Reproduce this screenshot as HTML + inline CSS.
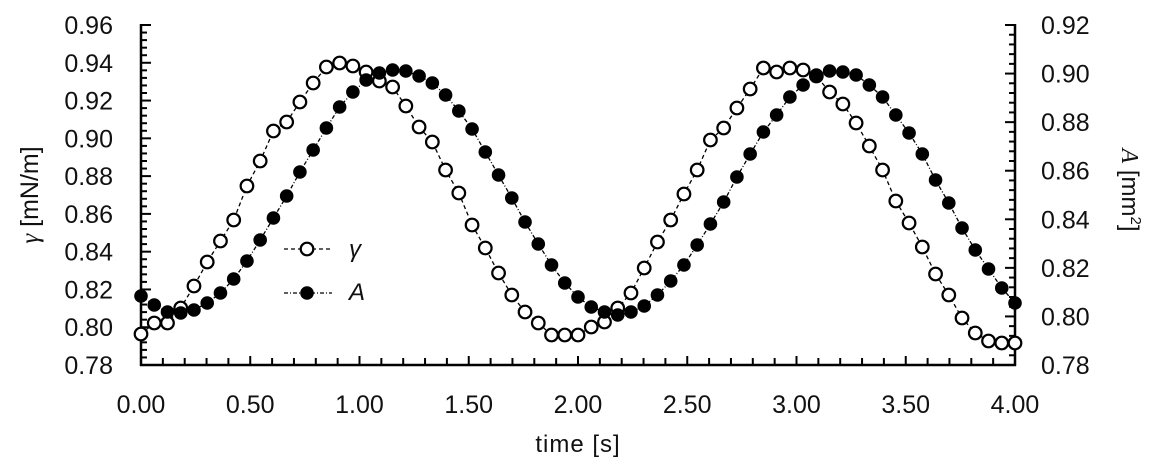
<!DOCTYPE html>
<html><head><meta charset="utf-8"><style>
html,body{margin:0;padding:0;background:#fff;}
svg{display:block;}
text{font-family:"Liberation Sans",sans-serif;fill:#111;}
</style></head><body>
<svg id="s" width="1151" height="466" xmlns="http://www.w3.org/2000/svg">
<g id="ticks" stroke="#000" stroke-width="2"></g>
<line x1="141" y1="24" x2="141" y2="366" stroke="#000" stroke-width="2.5"/>
<line x1="1015" y1="24" x2="1015" y2="366" stroke="#000" stroke-width="2.5"/>
<line x1="140" y1="365" x2="1016" y2="365" stroke="#000" stroke-width="2.5"/>
<g id="lbl" font-size="25"></g>
<text x="578" y="452" font-size="24" text-anchor="middle" letter-spacing="1">time [s]</text>
<text transform="translate(38,195) rotate(-90)" font-size="25" text-anchor="middle"><tspan font-family="Liberation Serif,serif" font-style="italic">γ</tspan> [mN/m]</text>
<text transform="translate(1122,190) rotate(90)" font-size="24" text-anchor="middle"><tspan font-family="Liberation Serif,serif" font-style="italic">A</tspan> [mm<tspan font-size="15" dy="-9">2</tspan><tspan dy="9">]</tspan></text>
<g id="series"></g>
<line x1="284" y1="249" x2="332" y2="249" stroke="#000" stroke-width="1.3" stroke-dasharray="4,3"/>
<circle cx="307" cy="249" r="6.3" fill="#fff" stroke="#000" stroke-width="2.2"/>
<line x1="284" y1="293" x2="332" y2="293" stroke="#000" stroke-width="1.3" stroke-dasharray="4,2,1,2"/>
<circle cx="307" cy="293" r="6.8" fill="#000"/>
<text x="349" y="257" font-size="24" font-family="Liberation Serif,serif" font-style="italic">γ</text>
<text x="349" y="300" font-size="24" font-family="Liberation Serif,serif" font-style="italic">A</text>
</svg>
<script>
var NS="http://www.w3.org/2000/svg";
function el(p,t,a,txt){var e=document.createElementNS(NS,t);for(var k in a)e.setAttribute(k,a[k]);if(txt!=null)e.textContent=txt;document.getElementById(p).appendChild(e);return e;}
for(var i=0;i<=45;i++){var y=365-i*340/45;var maj=i%5==0;
 el("ticks","line",{x1:141,y1:y,x2:141+(maj?10:6),y2:y});}
for(var i=0;i<=35;i++){var y=365-i*340/35;var maj=i%5==0;
 el("ticks","line",{x1:1015,y1:y,x2:1015-(maj?10:6),y2:y});}
for(var i=0;i<=40;i++){var x=141+i*874/40;var maj=i%5==0;
 el("ticks","line",{x1:x,y1:365,x2:x,y2:365-(maj?9:7)});}
for(var i=0;i<=9;i++){var y=365-i*340/9;el("lbl","text",{x:113,y:y+9,"text-anchor":"end"},(0.78+i*0.02).toFixed(2));}
for(var i=0;i<=7;i++){var y=365-i*340/7;el("lbl","text",{x:1041,y:y+9},(0.78+i*0.02).toFixed(2));}
for(var i=0;i<=8;i++){var x=141+i*874/8;el("lbl","text",{x:x,y:413,"text-anchor":"middle"},(i*0.5).toFixed(2));}
var g=[334,323,323,308,286,262,241,220,186,161,131,122,102,83,67,63,66,72,81,87,106,127,142,170,193,225,248,273,295,312,323,335,335,335,327,322,308,293,268,242,220,194,170,140,128,108,89,68,72,68,70,76,92,104,123,146,170,201,223,247,274,295,318,333,341,343,343];
var a=[296,305,312,313,310,303,293,279,261,240,218,196,172,150,128,107,92,80,73,70,71,76,83,95,111,129,152,175,198,222,244,265,283,297,307,312,315,312,306,295,281,265,245,224,202,177,154,132,115,97,85,75,71,72,75,85,97,115,133,154,180,203,228,250,269,288,303];
function pts(arr){return arr.map(function(v,i){return (141+i*874/66).toFixed(1)+","+v;}).join(" ");}
el("series","polyline",{points:pts(g),fill:"none",stroke:"#000","stroke-width":1.3,"stroke-dasharray":"4,3"});
el("series","polyline",{points:pts(a),fill:"none",stroke:"#000","stroke-width":1.3,"stroke-dasharray":"4,2,1,2"});
g.forEach(function(v,i){el("series","circle",{cx:141+i*874/66,cy:v,r:6.3,fill:"#fff",stroke:"#000","stroke-width":2.2});});
a.forEach(function(v,i){el("series","circle",{cx:141+i*874/66,cy:v,r:6.8,fill:"#000"});});
</script>
</body></html>
